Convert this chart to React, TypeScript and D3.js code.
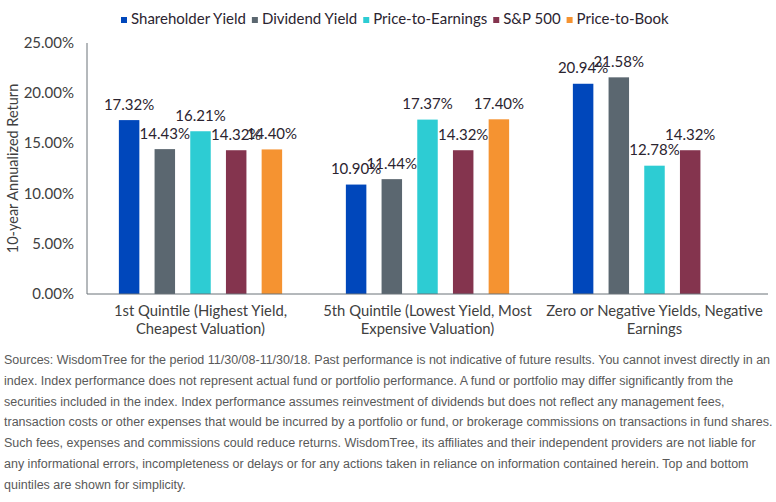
import React, { useEffect, useRef } from 'react'
import * as d3 from 'd3'

const categories = [
    ['1st Quintile (Highest Yield,', 'Cheapest Valuation)'],
    ['5th Quintile (Lowest Yield, Most', 'Expensive Valuation)'],
    ['Zero or Negative Yields, Negative', 'Earnings'],
]
const seriesNames = ['Shareholder Yield', 'Dividend Yield', 'Price-to-Earnings', 'S&P 500', 'Price-to-Book']
const seriesColors = ['#0047BB', '#5B6770', '#2DCCD3', '#84344E', '#F59331']

// one array per series, in category order (null = no bar)
const shareholderYield = [17.32, 10.9, 20.94]
const dividendYield = [14.43, 11.44, 21.58]
const priceToEarnings = [16.21, 17.37, 12.78]
const sp500 = [14.32, 14.32, 14.32]
const priceToBook = [14.4, 17.4, null]

const yTicks = [0, 5, 10, 15, 20, 25]

const footnote = [
    'Sources: WisdomTree for the period 11/30/08-11/30/18. Past performance is not indicative of future results. You cannot invest directly in an',
    'index. Index performance does not represent actual fund or portfolio performance. A fund or portfolio may differ significantly from the',
    'securities included in the index. Index performance assumes reinvestment of dividends but does not reflect any management fees,',
    'transaction costs or other expenses that would be incurred by a portfolio or fund, or brokerage commissions on transactions in fund shares.',
    'Such fees, expenses and commissions could reduce returns. WisdomTree, its affiliates and their independent providers are not liable for',
    'any informational errors, incompleteness or delays or for any actions taken in reliance on information contained herein. Top and bottom',
    'quintiles are shown for simplicity.',
]

export default function App() {
    const svgRef = useRef<SVGSVGElement>(null)

    const width = 776
    const height = 502
    const margin = { left: 87, right: 8, top: 43, bottom: 208 }
    const chartFont = 'Lato, "Open Sans", sans-serif'

    useEffect(() => {
        const svg = d3.select(svgRef.current)
        svg.selectAll('*').remove()

        const values = [shareholderYield, dividendYield, priceToEarnings, sp500, priceToBook]

        const x0 = d3
            .scaleBand()
            .domain(categories.map((_, i) => String(i)))
            .range([margin.left, width - margin.right])
        const x1 = d3
            .scaleBand()
            .domain(seriesNames)
            .range([0, x0.bandwidth()])
            .paddingInner(0.426)
            .paddingOuter(0.893)
        const y = d3
            .scaleLinear()
            .domain([0, 25])
            .range([height - margin.bottom, margin.top])

        svg.append('rect').attr('width', width).attr('height', height).attr('fill', '#fff')

        // bars + value labels
        categories.forEach((_, ci) => {
            const g = svg.append('g').attr('transform', `translate(${x0(String(ci))},0)`)
            seriesNames.forEach((name, si) => {
                const v = values[si][ci]
                if (v == null) return
                g.append('rect')
                    .attr('x', x1(name))
                    .attr('y', y(v))
                    .attr('width', x1.bandwidth())
                    .attr('height', y(0) - y(v))
                    .attr('fill', seriesColors[si])
                g.append('text')
                    .attr('x', x1(name)! + x1.bandwidth() / 2)
                    .attr('y', y(v) - 10.5)
                    .attr('text-anchor', 'middle')
                    .attr('font-family', chartFont)
                    .attr('font-size', 15)
                    .attr('fill', '#2b2430')
                    .text(v.toFixed(2) + '%')
            })
        })

        // axes
        const axisColor = '#6b7278'
        svg.append('line')
            .attr('x1', margin.left).attr('x2', margin.left)
            .attr('y1', y(25)).attr('y2', y(0))
            .attr('stroke', axisColor)
        svg.append('line')
            .attr('x1', margin.left).attr('x2', width - margin.right)
            .attr('y1', y(0)).attr('y2', y(0))
            .attr('stroke', axisColor)

        svg.append('g')
            .selectAll('text')
            .data(yTicks)
            .join('text')
            .attr('x', 74)
            .attr('y', (d) => y(d) + 5)
            .attr('text-anchor', 'end')
            .attr('font-family', chartFont)
            .attr('font-size', 15)
            .attr('fill', '#404040')
            .text((d) => d.toFixed(2) + '%')

        svg.append('text')
            .attr('transform', `translate(18,${(y(0) + y(25)) / 2}) rotate(-90)`)
            .attr('text-anchor', 'middle')
            .attr('font-family', chartFont)
            .attr('font-size', 14.5)
            .attr('fill', '#404040')
            .text('10-year Annualized Return')

        // category labels, two lines each
        categories.forEach((lines, ci) => {
            const cx = x0(String(ci))! + x0.bandwidth() / 2
            lines.forEach((line, li) => {
                svg.append('text')
                    .attr('x', cx)
                    .attr('y', y(0) + 22 + li * 18)
                    .attr('text-anchor', 'middle')
                    .attr('font-family', chartFont)
                    .attr('font-size', 14.8)
                    .attr('fill', '#404040')
                    .text(line)
            })
        })

        // legend
        let lx = 121
        seriesNames.forEach((name, si) => {
            svg.append('rect')
                .attr('x', lx).attr('y', 17)
                .attr('width', 6).attr('height', 6)
                .attr('fill', seriesColors[si])
            const t = svg.append('text')
                .attr('x', lx + 10)
                .attr('y', 23.5)
                .attr('font-family', chartFont)
                .attr('font-size', 15)
                .attr('fill', '#2b2430')
                .text(name)
            const w = (t.node() as SVGTextElement).getComputedTextLength()
            lx += 10 + w + 6
        })

        // footnote, condensed to the page width
        const fg = svg.append('g')
        fg.selectAll('text')
            .data(footnote)
            .join('text')
            .attr('x', 0)
            .attr('y', (_, i) => 364 + i * 20.8)
            .attr('font-family', '"Liberation Sans", Arial, sans-serif')
            .attr('font-size', 13.5)
            .attr('fill', '#595959')
            .text((d) => d)
        const first = fg.select('text').node() as SVGTextElement
        const k = 767 / first.getComputedTextLength()
        fg.attr('transform', `translate(4,0) scale(${k},1)`)
    }, [])

    return (
        <svg
            ref={svgRef}
            width={width}
            height={height}
            style={{ position: 'absolute', left: 0, top: 0 }}
        />
    )
}
